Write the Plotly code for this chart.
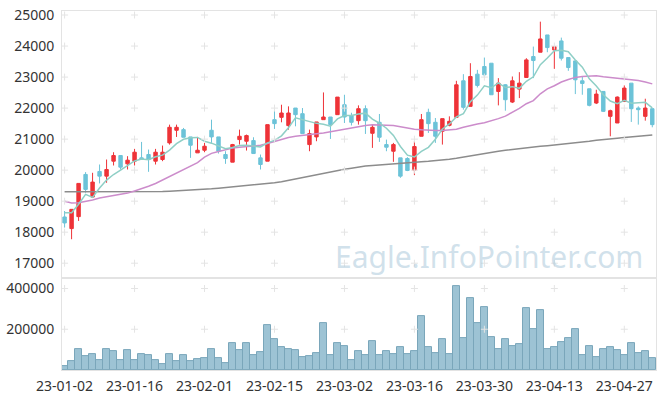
import plotly.graph_objects as go
from plotly.subplots import make_subplots
import pandas as pd

# ---- categories (trading days) ----
month_days = {
    "01": [2, 3, 4, 5, 6, 9, 10, 11, 12, 13, 16, 17, 18, 19, 20, 25, 26, 27, 30, 31],
    "02": [1, 2, 3, 6, 7, 8, 9, 10, 13, 14, 15, 16, 17, 20, 21, 22, 23, 24, 27, 28],
    "03": [2, 3, 6, 7, 8, 9, 10, 13, 14, 15, 16, 17, 20, 21, 22, 23, 24, 27, 28, 29, 30, 31],
    "04": [3, 4, 5, 6, 7, 10, 11, 12, 13, 14, 17, 18, 19, 20, 21, 24, 25, 26, 27, 28],
    "05": [2, 3, 4],
}
dates = [f"23-{m}-{d:02d}" for m, days in month_days.items() for d in days]

# ---- OHLC ----
opens = [18490, 18116, 18501, 19861, 19133, 19957, 19807, 20289, 20471, 20203,
         20289, 20396, 20503, 20289, 20343, 20878, 21285, 21306, 21071, 20557,
         20642, 21285, 21071, 20503, 20257, 20985, 20932, 20953, 20396, 20289,
         21627, 21702, 21435, 22002, 21820, 20824, 21071, 21627, 21713, 21788,
         22109, 21756, 21595, 21981, 21188, 21542, 20824, 20610, 20396, 20375,
         20000, 21092, 21863, 21542, 21253, 21445, 21702, 22880, 22056, 23094,
         23340, 23447, 22537, 22752, 22195, 22612, 22987, 23662, 23801, 24358,
         23876, 24165, 23629, 23522, 22880, 22623, 22163, 22537, 21734, 21520,
         22216, 22805, 22002, 21734, 21981]
highs = [18683, 18736, 19572, 19936, 19914, 20182, 20342, 20578, 20471, 20450,
         20685, 20910, 20664, 20685, 20792, 21467, 21467, 21360, 21071, 21071,
         20878, 21627, 21071, 20610, 20846, 21306, 21146, 21060, 20503, 21467,
         21948, 22109, 22056, 22002, 22002, 21306, 21553, 22505, 21713, 22355,
         22430, 21850, 22088, 22088, 21467, 21810, 20985, 20878, 20396, 20418,
         20932, 21810, 21981, 21681, 21660, 21734, 22880, 23094, 23447, 23233,
         23629, 23447, 22966, 22773, 23019, 23158, 23608, 23983, 24786, 24358,
         23983, 24272, 23629, 23522, 23008, 22623, 22591, 22537, 21949, 22377,
         22730, 22805, 22056, 22302, 21981]
lows = [18148, 17773, 18362, 19272, 19111, 19572, 19593, 20150, 20021, 20021,
        20150, 20343, 19946, 20182, 20289, 20824, 21070, 21060, 20396, 20557,
        20578, 20878, 20535, 20203, 20257, 20824, 20632, 20535, 20021, 20289,
        21328, 21542, 21306, 21413, 21178, 20610, 20932, 21627, 21006, 21788,
        21520, 21440, 21467, 21167, 20717, 20910, 20610, 20268, 19753, 19968,
        19839, 21092, 21199, 20878, 20824, 21413, 21702, 21949, 22056, 22666,
        22987, 22430, 22088, 21916, 22163, 22323, 22987, 22966, 23801, 23801,
        23265, 23533, 23201, 22452, 22430, 22056, 22130, 21873, 21092, 21520,
        22195, 21553, 21467, 21595, 21381]
closes = [18298, 18736, 19572, 19379, 19615, 19807, 20021, 20471, 20096, 20321,
          20578, 20343, 20343, 20578, 20578, 21381, 21381, 21060, 20803, 20642,
          20771, 21071, 20610, 20375, 20824, 21092, 21114, 20535, 20182, 21467,
          21499, 21842, 21842, 21788, 21178, 21178, 21553, 21713, 21467, 22355,
          21713, 21542, 21981, 21595, 21381, 21060, 20739, 20824, 19807, 19989,
          20760, 21627, 21499, 21092, 21660, 21574, 22751, 22024, 23019, 22730,
          23073, 22430, 22805, 22270, 22880, 22805, 23554, 23533, 24229, 23951,
          23983, 23608, 23308, 22912, 22794, 22088, 22452, 21895, 21916, 22355,
          22645, 21981, 21949, 22002, 21467]

# ---- volume ----
volumes = [18000, 45000, 105000, 70000, 80000, 50000, 105000, 95000, 50000, 100000,
           50000, 80000, 75000, 50000, 30000, 80000, 45000, 75000, 45000, 55000,
           60000, 105000, 60000, 35000, 130000, 100000, 130000, 75000, 90000, 220000,
           150000, 110000, 105000, 100000, 65000, 70000, 85000, 230000, 75000, 130000,
           115000, 50000, 95000, 75000, 140000, 75000, 95000, 80000, 110000, 80000,
           95000, 265000, 110000, 85000, 150000, 80000, 410000, 155000, 355000, 230000,
           310000, 160000, 105000, 150000, 115000, 125000, 305000, 200000, 295000, 105000,
           110000, 135000, 155000, 200000, 75000, 115000, 65000, 105000, 110000, 100000,
           75000, 130000, 85000, 95000, 60000]

# ---- moving averages (MA5 continued from closes) ----
ma5_head = [18630, 18630, 18900, 19220]
ma20 = [19000, 18940, 18950, 18990, 19040, 19100, 19140, 19180, 19200, 19260,
        19330, 19400, 19480, 19570, 19680, 19800, 19920, 20020, 20120, 20240,
        20420, 20540, 20600, 20660, 20710, 20740, 20760, 20770, 20800, 20860,
        20930, 20990, 21050, 21090, 21110, 21140, 21170, 21200, 21240, 21280,
        21330, 21380, 21410, 21440, 21460, 21460, 21450, 21440, 21400, 21350,
        21320, 21300, 21285, 21280, 21280, 21290, 21320, 21380, 21440, 21490,
        21530, 21590, 21660, 21740, 21860, 21990, 22140, 22240, 22460, 22620,
        22720, 22840, 22920, 22990, 23020, 23040, 23040, 23010, 22990, 22960,
        22930, 22910, 22890, 22840, 22780]
ma60 = [19300, 19300, 19300, 19295, 19295, 19290, 19290, 19290, 19290, 19295,
        19295, 19300, 19300, 19305, 19310, 19320, 19330, 19340, 19350, 19365,
        19380, 19400, 19420, 19440, 19455, 19475, 19495, 19515, 19540, 19565,
        19590, 19625, 19670, 19720, 19770, 19820, 19865, 19900, 19940, 19985,
        20030, 20060, 20100, 20130, 20150, 20170, 20190, 20205, 20214, 20230,
        20250, 20270, 20285, 20300, 20320, 20350, 20380, 20420, 20460, 20505,
        20540, 20580, 20610, 20640, 20670, 20700, 20725, 20750, 20770, 20790,
        20810, 20840, 20860, 20880, 20900, 20930, 20960, 20990, 21010, 21030,
        21050, 21070, 21090, 21110, 21135]

price_ticks = [17000, 18000, 19000, 20000, 21000, 22000, 23000, 24000, 25000]
vol_ticks = [200000, 400000]
tick_labels = dates[0::10]

ma5 = pd.Series(closes).rolling(5).mean().tolist()
ma5 = ma5_head + ma5[4:]

UP = "#ee3338"
DOWN = "#6cc3d8"

fig = make_subplots(rows=2, cols=1, shared_xaxes=True, vertical_spacing=0,
                    row_heights=[0.744, 0.256])

fig.add_trace(go.Scatter(x=dates, y=ma60, mode="lines", hoverinfo="skip",
                         line=dict(color="#8c8c8c", width=1.5)), row=1, col=1)
fig.add_trace(go.Scatter(x=dates, y=ma20, mode="lines", hoverinfo="skip",
                         line=dict(color="#cc8ccb", width=1.5)), row=1, col=1)

fig.add_trace(go.Candlestick(
    x=dates, open=opens, high=highs, low=lows, close=closes,
    increasing=dict(line=dict(color=UP, width=1), fillcolor=UP),
    decreasing=dict(line=dict(color=DOWN, width=1), fillcolor=DOWN),
    whiskerwidth=0), row=1, col=1)

fig.add_trace(go.Scatter(x=dates, y=ma5, mode="lines", hoverinfo="skip",
                         line=dict(color="#8fcfc6", width=1.5)), row=1, col=1)

fig.add_trace(go.Bar(x=dates, y=volumes,
                     marker=dict(color="rgba(140,185,205,0.85)",
                                 line=dict(color="#7aa6ba", width=1))),
              row=2, col=1)

# grid crosses at tick intersections
gx = [d for d in tick_labels for _ in price_ticks]
gy = [p for _ in tick_labels for p in price_ticks]
fig.add_trace(go.Scatter(x=gx, y=gy, mode="markers", hoverinfo="skip",
                         marker=dict(symbol="cross-thin", size=5,
                                     line=dict(color="#e4e4e4", width=1))),
              row=1, col=1)
gx2 = [d for d in tick_labels for _ in vol_ticks]
gy2 = [v for _ in tick_labels for v in vol_ticks]
fig.add_trace(go.Scatter(x=gx2, y=gy2, mode="markers", hoverinfo="skip",
                         marker=dict(symbol="cross-thin", size=5,
                                     line=dict(color="#e4e4e4", width=1))),
              row=2, col=1)

font = dict(family="Noto Sans, sans-serif", size=14, color="#333333")

fig.update_layout(
    width=665, height=397,
    margin=dict(l=62, r=9, t=11, b=27),
    paper_bgcolor="white", plot_bgcolor="white",
    showlegend=False, bargap=0, boxgap=0.3,
    font=font,
    annotations=[dict(text="Eagle.InfoPointer.com", xref="paper", yref="paper",
                      x=0.719, y=0.315, xanchor="center", yanchor="middle",
                      showarrow=False,
                      font=dict(family="Noto Sans, sans-serif", size=30,
                                color="rgba(170,200,218,0.55)"))],
)

xr = [-0.37, 84.53]
common_x = dict(type="category", categoryorder="array", categoryarray=dates,
                range=xr, showgrid=False, zeroline=False, automargin=False,
                showline=True, linecolor="#e3e3e3", mirror=True,
                tickmode="array", tickvals=tick_labels, ticktext=tick_labels)
fig.update_xaxes(**common_x, rangeslider=dict(visible=False),
                 ticks="", showticklabels=False, row=1, col=1)
fig.update_xaxes(**common_x, ticks="outside", ticklen=3, tickcolor="white",
                 showticklabels=True, tickangle=0, row=2, col=1)
fig.update_yaxes(range=[16520, 25130], tickvals=price_ticks, tickformat="d",
                 showgrid=False, zeroline=False, showline=True, automargin=False,
                 linecolor="#e3e3e3", mirror=True,
                 ticks="outside", ticklen=4, tickcolor="white", row=1, col=1)
fig.update_yaxes(range=[0, 451000], tickvals=vol_ticks, tickformat="d",
                 showgrid=False, zeroline=False, showline=True, automargin=False,
                 linecolor="#e3e3e3", mirror=True,
                 ticks="outside", ticklen=4, tickcolor="white", row=2, col=1)

fig.write_html("out.html",
               config={"displayModeBar": False},
               post_script="document.body.style.margin='0px';document.body.style.overflow='hidden';")
